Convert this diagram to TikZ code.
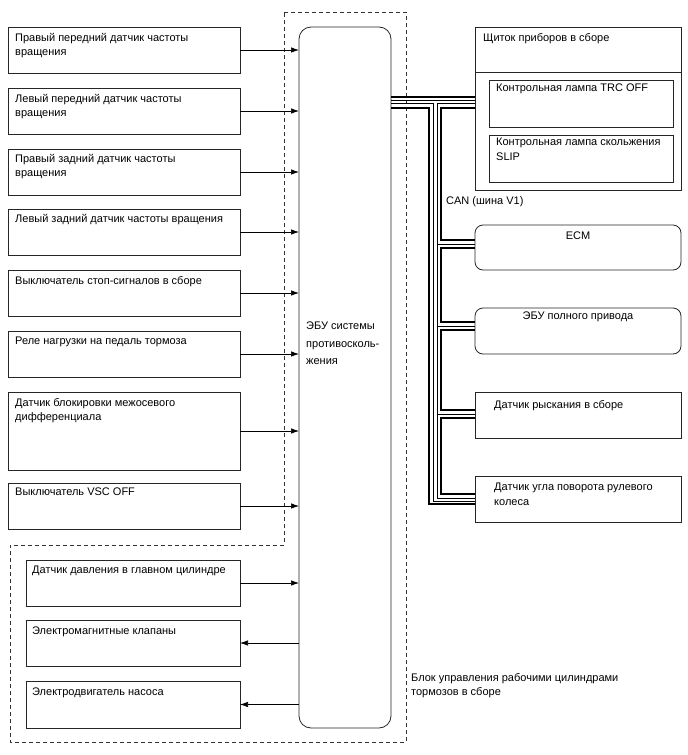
\documentclass[tikz,border=0pt]{standalone}
\usepackage{fontspec}
\setmainfont{Liberation Sans}
\usetikzlibrary{arrows.meta,calc}
\begin{document}
\begin{tikzpicture}[x=1pt,y=-1pt,
  box/.style={draw=black!85, line width=0.8pt, rectangle, anchor=north west, inner sep=0pt, outer sep=0pt, fill=white},
  txt/.style={anchor=north west, inner sep=0pt, align=left, font=\fontsize{11}{14.5}\selectfont},
  ctxt/.style={anchor=north, inner sep=0pt, align=center, font=\fontsize{11}{14.5}\selectfont},
  arr/.style={line width=0.7pt, -{Latex[length=8pt,width=5.5pt]}},
  dashb/.style={line width=0.9pt, dash pattern=on 4pt off 3pt, draw=black!80},
  thk/.style={line width=2pt},
  thn/.style={line width=0.8pt},
]
\useasboundingbox (0,0) rectangle (688,755);

% dashed outline
\draw[dashb] (284,12) -- (406,12) -- (406,742) -- (10,742) -- (10,545) -- (284,545) -- cycle;

% ECU
\node[box, rounded corners=12pt, minimum width=92pt, minimum height=701pt] (ecu) at (299,27) {};
\node[txt, font=\fontsize{11}{17.5}\selectfont] (ecut) at (306,322) {ЭБУ системы\\противосколь-\\жения};

% left boxes
\node[box, minimum width=232pt, minimum height=46pt] (b1) at (8,27) {};
\node[box, minimum width=232pt, minimum height=46pt] (b2) at (8,88) {};
\node[box, minimum width=232pt, minimum height=46pt] (b3) at (8,149) {};
\node[box, minimum width=232pt, minimum height=46pt] (b4) at (8,209) {};
\node[box, minimum width=232pt, minimum height=46pt] (b5) at (8,270) {};
\node[box, minimum width=232pt, minimum height=46pt] (b6) at (8,331) {};
\node[box, minimum width=232pt, minimum height=78pt] (b7) at (8,392) {};
\node[box, minimum width=232pt, minimum height=46pt] (b8) at (8,483) {};

\node[txt] (t1) at (15,33) {Правый передний датчик частоты\\вращения};
\node[txt] (t2) at (15,94) {Левый передний датчик частоты\\вращения};
\node[txt] (t3) at (15,154) {Правый задний датчик частоты\\вращения};
\node[txt] (t4) at (15,214) {Левый задний датчик частоты вращения};
\node[txt] (t5) at (15,276) {Выключатель стоп-сигналов в сборе};
\node[txt] (t6) at (15,337) {Реле нагрузки на педаль тормоза};
\node[txt] (t7) at (15,398) {Датчик блокировки межосевого\\дифференциала};
\node[txt] (t8) at (15,488) {Выключатель VSC OFF};

\foreach \b in {b1,b2,b3,b4,b5,b6,b7,b8}
  \draw[arr] (\b.east) -- (\b.east -| ecu.west);

% lower left boxes
\node[box, minimum width=214pt, minimum height=46pt] (v1) at (26,560) {};
\node[box, minimum width=214pt, minimum height=46pt] (v2) at (26,620) {};
\node[box, minimum width=214pt, minimum height=47pt] (v3) at (26,681) {};
\node[txt] (tv1) at (32,566) {Датчик давления в главном цилиндре};
\node[txt] (tv2) at (32,627) {Электромагнитные клапаны};
\node[txt] (tv3) at (32,688) {Электродвигатель насоса};
\draw[arr] (v1.east) -- (v1.east -| ecu.west);
\draw[arr] (ecu.west |- v2.east) -- (v2.east);
\draw[arr] (ecu.west |- v3.east) -- (v3.east);

\node[txt] (blk) at (411,673) {Блок управления рабочими цилиндрами\\тормозов в сборе};

% right side devices
\node[box, minimum width=206pt, minimum height=163pt] (cl) at (475,27) {};
\draw[line width=0.8pt, draw=black!85] ([yshift=-45pt]cl.north west) -- ([yshift=-45pt]cl.north east);
\node[txt] (tcl) at (483,33) {Щиток приборов в сборе};
\node[box, minimum width=184pt, minimum height=47pt] (l1) at (489,80) {};
\node[box, minimum width=184pt, minimum height=47pt] (l2) at (489,135) {};
\node[txt] (tl1) at (496,84) {Контрольная лампа TRC OFF};
\node[txt] (tl2) at (496,138) {Контрольная лампа скольжения\\SLIP};

\node[box, rounded corners=8pt, minimum width=206pt, minimum height=45pt] (ecm) at (475,225) {};
\node[ctxt] (tecm) at ([yshift=-7pt]ecm.north) {ECM};
\node[box, rounded corners=8pt, minimum width=206pt, minimum height=46pt] (awd) at (475,308) {};
\node[ctxt] (tawd) at ([yshift=-4pt]awd.north) {ЭБУ полного привода};
\node[box, minimum width=206pt, minimum height=46pt] (yaw) at (475,392) {};
\node[txt] (tyaw) at (494,400) {Датчик рыскания в сборе};
\node[box, minimum width=206pt, minimum height=46pt] (st) at (475,476) {};
\node[txt] (tst) at (494,483) {Датчик угла поворота рулевого\\колеса};

\node[txt] (can) at (446,196) {CAN (шина V1)};

% CAN wiring
\coordinate (c97) at ($(cl.north west)+(0,70)$);
\coordinate (c100) at ($(cl.north west)+(0,73)$);
\coordinate (c103) at ($(cl.north west)+(0,76)$);
\coordinate (c108) at ($(cl.north west)+(0,81)$);
\coordinate (e240) at ($(ecm.north west)+(0,15)$);
\coordinate (e244) at ($(ecm.north west)+(0,19)$);
\coordinate (e248) at ($(ecm.north west)+(0,23)$);
\coordinate (a322) at ($(awd.north west)+(0,14)$);
\coordinate (a326) at ($(awd.north west)+(0,18)$);
\coordinate (a330) at ($(awd.north west)+(0,22)$);
\coordinate (y410) at ($(yaw.north west)+(0,18)$);
\coordinate (y414) at ($(yaw.north west)+(0,22)$);
\coordinate (y418) at ($(yaw.north west)+(0,26)$);
\coordinate (s494) at ($(st.north west)+(0,18)$);
\coordinate (s498) at ($(st.north west)+(0,22)$);
\coordinate (s501) at ($(st.north west)+(0,25)$);
\coordinate (s504) at ($(st.north west)+(0,28)$);

\draw[thk] (ecu.east |- c97) -- (c97);
\draw[thn] (ecu.east |- c100) -- (c100);
\draw[thn] (ecu.east |- c103) -- ++(42,0) |- (s501);
\draw[thk] (ecu.east |- c108) -- ++(38,0) |- (s504);
\draw[thn] (c103) -- ++(-38,0) |- (s498);
\draw[thk] (c108) -- ++(-34,0) |- (e240);
\draw[thn] (e244) -- ++(-38,0);
\draw[thk] (e248) -- ++(-34,0) |- (a322);
\draw[thn] (a326) -- ++(-38,0);
\draw[thk] (a330) -- ++(-34,0) |- (y410);
\draw[thn] (y414) -- ++(-38,0);
\draw[thk] (y418) -- ++(-34,0) |- (s494);
\end{tikzpicture}
\end{document}
